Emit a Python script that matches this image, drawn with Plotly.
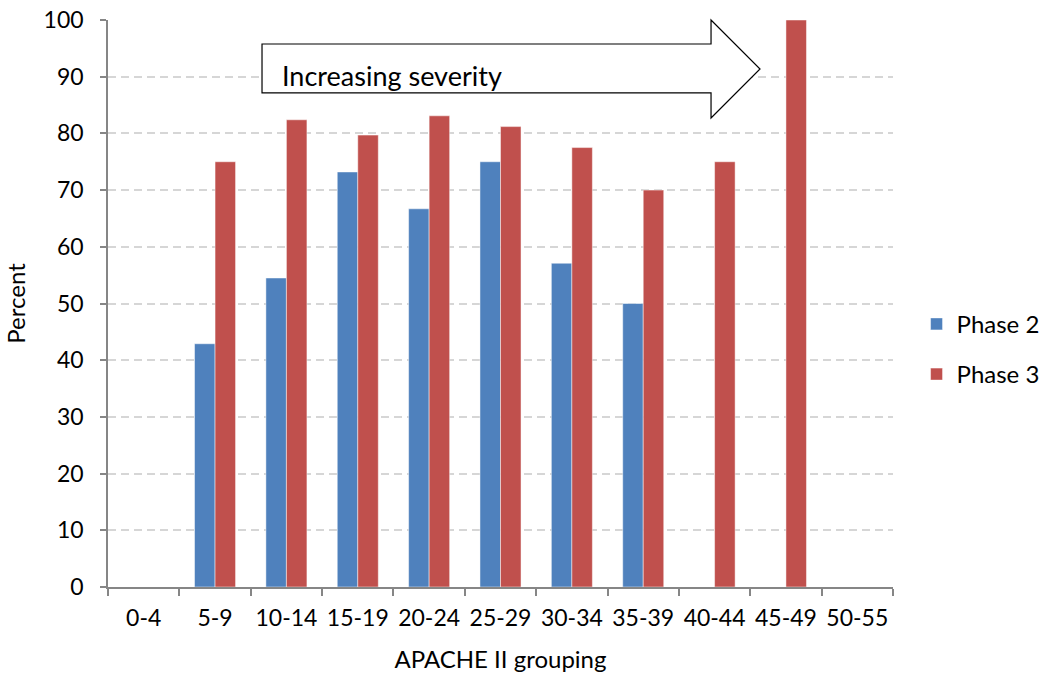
import plotly.graph_objects as go

categories = ["0-4", "5-9", "10-14", "15-19", "20-24", "25-29", "30-34", "35-39", "40-44", "45-49", "50-55"]
phase2 = [None, 42.9, 54.5, 73.2, 66.7, 75.0, 57.1, 50.0, None, None, None]
phase3 = [None, 75.0, 82.4, 79.7, 83.1, 81.2, 77.5, 70.0, 75.0, 100.0, None]

FONT = "Lato, 'Open Sans', sans-serif"

fig = go.Figure()
fig.add_trace(go.Bar(name="Phase 2", x=categories, y=phase2, legendgroup="a",
                     marker=dict(color="#4F81BD", line=dict(color="rgba(255,255,255,0.6)", width=0.8))))
fig.add_trace(go.Bar(name="Phase 3", x=categories, y=phase3, legendgroup="b",
                     marker=dict(color="#C0504D", line=dict(color="rgba(255,255,255,0.6)", width=0.8))))

# Arrow shape (paper coordinates)
L, T, B = 108, 20, 587
W, H = 893 - 108, 587 - 20
def px(x): return (x - L) / W
def py(y): return (B - y) / H
pts = [(262, 44), (711, 44), (711, 20), (760, 69), (711, 118), (711, 93), (262, 93)]
path = "M " + " L ".join(f"{px(x):.4f},{py(y):.4f}" for x, y in pts) + " Z"
fig.add_shape(type="path", path=path, xref="paper", yref="paper",
              line=dict(color="black", width=1.2), fillcolor="white", layer="above")
fig.add_annotation(text="Increasing severity", xref="paper", yref="paper",
                   x=px(280), y=py(75), xanchor="left", yanchor="middle",
                   showarrow=False, font=dict(family=FONT, size=27, color="black"))

fig.update_layout(
    width=1052, height=680,
    margin=dict(l=108, r=159, t=20, b=93, autoexpand=False),
    paper_bgcolor="white", plot_bgcolor="white",
    barmode="group", bargap=0.425, bargroupgap=0,
    font=dict(family=FONT, size=24, color="black"),
    legend=dict(x=1.03, y=0.503, xanchor="left", yanchor="top",
                traceorder="grouped", tracegroupgap=16,
                font=dict(family=FONT, size=24, color="black")),
    showlegend=True,
)
fig.update_xaxes(
    title=dict(text="APACHE II grouping", font=dict(family=FONT, size=24), standoff=21),
    automargin=False, tickangle=0,
    showline=True, linecolor="#868686", linewidth=1.5,
    ticks="outside", ticklen=7, tickcolor="#868686", tickwidth=1.5,
    tickson="boundaries", showgrid=False, ticklabelstandoff=10,
    tickfont=dict(family=FONT, size=23),
)
fig.update_yaxes(
    title=dict(text="Percent", font=dict(family=FONT, size=24), standoff=11),
    automargin=False,
    range=[0, 100], dtick=10,
    showline=True, linecolor="#868686", linewidth=1.5,
    ticks="outside", ticklen=6, tickcolor="#868686", tickwidth=1.5,
    showgrid=True, gridcolor="#D6D6D6", gridwidth=1.5, griddash="8px,5px",
    tickfont=dict(family=FONT, size=23), zeroline=False, ticklabelstandoff=12,
)

fig.write_html("out.html")
